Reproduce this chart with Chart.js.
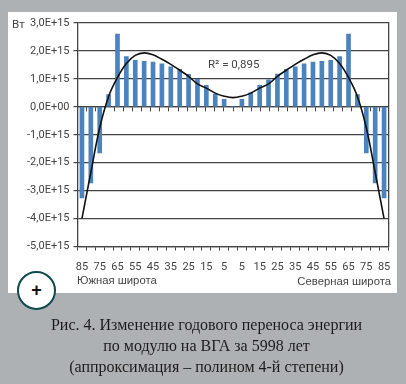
<!DOCTYPE html>
<html>
<head>
<meta charset="utf-8">
<script src="https://cdn.jsdelivr.net/npm/chart.js@4"></script>
<style>
html,body{margin:0;padding:0;background:#aeb1b4;width:406px;height:384px;overflow:hidden;}
#panel{position:absolute;left:8px;top:12px;width:389px;height:281px;background:#fff;}
canvas{position:absolute;left:0;top:0;}
.lbl{position:absolute;font-family:"Liberation Sans",sans-serif;font-size:11.3px;color:#444;white-space:nowrap;}
.narrow{font-family:Roboto,sans-serif;font-size:11.5px;}
#caption{position:absolute;left:3.5px;width:406px;top:314px;text-align:center;font-family:"Liberation Serif",serif;font-size:16px;line-height:21px;color:#1c1c1c;}
#plus{position:absolute;left:17px;top:271px;width:35px;height:35px;border:2px solid #0f4a4c;border-radius:50%;background:#fff;text-align:center;font-family:"Liberation Sans",sans-serif;font-weight:bold;font-size:18px;line-height:35px;color:#111;}
</style>
</head>
<body>
<div id="panel"></div>
<canvas id="chart" width="406" height="384"></canvas>
<div class="lbl narrow" style="left:12px;top:17px;">Вт</div>
<div class="lbl narrow" style="left:208px;top:57px;">R² = 0,895</div>
<div class="lbl" style="left:77px;top:274px;">Южная широта</div>
<div class="lbl" style="right:15px;top:275px;">Северная широта</div>
<div id="plus">+</div>
<div id="caption">Рис. 4. Изменение годового переноса энергии<br>по модулю на ВГА за 5998 лет<br>(аппроксимация – полином 4-й степени)</div>
<script>
const latitudes = ["85","80","75","70","65","60","55","50","45","40","35","30","25","20","15","10","5","0",
  "5","10","15","20","25","30","35","40","45","50","55","60","65","70","75","80","85"];

const transfer = [-3.26e15,-2.72e15,-1.65e15,0.44e15,2.6e15,1.8e15,1.66e15,1.63e15,1.6e15,1.54e15,1.43e15,1.34e15,1.16e15,0.98e15,0.77e15,0.46e15,0.27e15,0,
  0.27e15,0.5e15,0.77e15,0.97e15,1.17e15,1.34e15,1.43e15,1.54e15,1.6e15,1.63e15,1.66e15,1.8e15,2.6e15,0.44e15,-1.65e15,-2.72e15,-3.26e15];

const trend = [-4e15,-2.35e15,-0.75e15,0.37e15,1.05e15,1.55e15,1.84e15,1.93e15,1.86e15,1.7e15,1.52e15,1.31e15,1.09e15,0.82e15,0.67e15,0.49e15,0.38e15,0.33e15,
  0.38e15,0.49e15,0.67e15,0.82e15,1.09e15,1.31e15,1.52e15,1.7e15,1.86e15,1.93e15,1.84e15,1.55e15,1.05e15,0.37e15,-0.75e15,-2.35e15,-4e15];

const gridColor = "#444";
const textColor = "#444";
const tickFont = {family:"Roboto,sans-serif",size:11};

function yLabel(v){
  if(v === 0) return "0,0E+00";
  return (v/1e15).toFixed(1).replace(".",",") + "E+15";
}

new Chart(document.getElementById("chart"),{
  data:{
    labels:latitudes,
    datasets:[
      {type:"line",data:trend,borderColor:"#111",borderWidth:1.6,pointRadius:0,tension:0.4,fill:false,order:0},
      {type:"bar",data:transfer,backgroundColor:"#4c82bd",barThickness:4,order:1}
    ]
  },
  options:{
    responsive:false,
    animation:false,
    layout:{padding:{left:0,right:17.5,top:23,bottom:107.5}},
    plugins:{legend:{display:false},tooltip:{enabled:false}},
    scales:{
      x:{
        position:"bottom",
        afterFit:s=>{s.height=30;},
        grid:{drawOnChartArea:false,color:gridColor,tickLength:4},
        border:{color:gridColor,width:1.3},
        ticks:{autoSkip:false,maxRotation:0,color:textColor,font:tickFont,padding:10,
          callback:function(v,i){return i%2===0?latitudes[i]:"";}}
      },
      xZero:{
        type:"category",
        labels:latitudes,
        position:{y:0},
        grid:{drawOnChartArea:false,color:gridColor,tickLength:4},
        border:{color:gridColor,width:1.3},
        ticks:{autoSkip:false,maxRotation:0,callback:()=>""}
      },
      y:{
        min:-5e15,max:3e15,
        afterFit:s=>{s.width=77.5;},
        grid:{color:gridColor,lineWidth:1.2,tickLength:4},
        border:{color:gridColor,width:1.3},
        ticks:{stepSize:1e15,color:textColor,font:tickFont,padding:4,callback:yLabel}
      },
      yRight:{
        position:"right",
        min:-5e15,max:3e15,
        afterFit:s=>{s.width=0;},
        grid:{drawOnChartArea:false,drawTicks:false},
        border:{color:gridColor,width:1.3},
        ticks:{display:false}
      }
    }
  }
});
</script>
</body>
</html>
